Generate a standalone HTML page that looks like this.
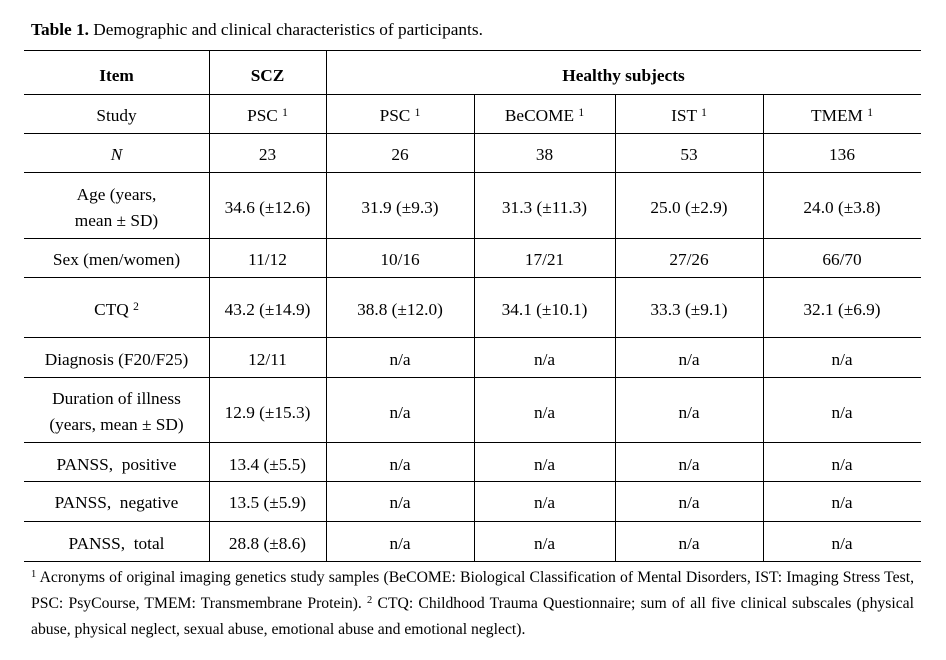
<!DOCTYPE html>
<html><head><meta charset="utf-8">
<style>
html,body{margin:0;padding:0;background:#fff;}
body{width:946px;height:660px;position:relative;overflow:hidden;font-family:"Liberation Serif","Times New Roman",serif;color:#000;font-size:17.3px;}
.h{position:absolute;left:24px;width:897px;height:1px;background:#000;}
.v{position:absolute;width:1px;background:#000;}
.t{position:absolute;text-align:center;line-height:20px;white-space:nowrap;}
.s{font-size:11.5px;position:relative;top:-5px;}
.b{font-weight:bold;}
.fn{position:absolute;left:31px;width:883px;line-height:20px;white-space:nowrap;}
.ft{font-size:15.7px;}
.j{text-align:justify;text-align-last:justify;white-space:normal;height:20px;overflow:visible;}
.fs{font-size:10.5px;position:relative;top:-5px;}
</style></head><body>

<div class="fn" style="top:20px;"><b>Table 1.</b> Demographic and clinical characteristics of participants.</div>

<!-- horizontal lines -->
<div class="h" style="top:50px"></div>
<div class="h" style="top:94px"></div>
<div class="h" style="top:133px"></div>
<div class="h" style="top:172px"></div>
<div class="h" style="top:238px"></div>
<div class="h" style="top:277px"></div>
<div class="h" style="top:337px"></div>
<div class="h" style="top:377px"></div>
<div class="h" style="top:442px"></div>
<div class="h" style="top:481px"></div>
<div class="h" style="top:521px"></div>
<div class="h" style="top:561px"></div>

<!-- vertical lines -->
<div class="v" style="left:209px;top:50px;height:511px"></div>
<div class="v" style="left:326px;top:50px;height:511px"></div>
<div class="v" style="left:474px;top:94px;height:467px"></div>
<div class="v" style="left:615px;top:94px;height:467px"></div>
<div class="v" style="left:763px;top:94px;height:467px"></div>

<!-- header row -->
<div class="t b" style="left:24px;width:185px;top:66px">Item</div>
<div class="t b" style="left:209px;width:117px;top:66px">SCZ</div>
<div class="t b" style="left:326px;width:595px;top:66px">Healthy subjects</div>

<!-- Study row -->
<div class="t" style="left:24px;width:185px;top:106px">Study</div>
<div class="t" style="left:209px;width:117px;top:106px">PSC <span class="s">1</span></div>
<div class="t" style="left:326px;width:148px;top:106px">PSC <span class="s">1</span></div>
<div class="t" style="left:474px;width:141px;top:106px">BeCOME <span class="s">1</span></div>
<div class="t" style="left:615px;width:148px;top:106px">IST <span class="s">1</span></div>
<div class="t" style="left:763px;width:158px;top:106px">TMEM <span class="s">1</span></div>

<!-- N row -->
<div class="t" style="left:24px;width:185px;top:145px"><i>N</i></div>
<div class="t" style="left:209px;width:117px;top:145px">23</div>
<div class="t" style="left:326px;width:148px;top:145px">26</div>
<div class="t" style="left:474px;width:141px;top:145px">38</div>
<div class="t" style="left:615px;width:148px;top:145px">53</div>
<div class="t" style="left:763px;width:158px;top:145px">136</div>

<!-- Age row -->
<div class="t" style="left:24px;width:185px;top:185px">Age (years,</div>
<div class="t" style="left:24px;width:185px;top:211px">mean ± SD)</div>
<div class="t" style="left:209px;width:117px;top:198px">34.6 (±12.6)</div>
<div class="t" style="left:326px;width:148px;top:198px">31.9 (±9.3)</div>
<div class="t" style="left:474px;width:141px;top:198px">31.3 (±11.3)</div>
<div class="t" style="left:615px;width:148px;top:198px">25.0 (±2.9)</div>
<div class="t" style="left:763px;width:158px;top:198px">24.0 (±3.8)</div>

<!-- Sex row -->
<div class="t" style="left:24px;width:185px;top:250px">Sex (men/women)</div>
<div class="t" style="left:209px;width:117px;top:250px">11/12</div>
<div class="t" style="left:326px;width:148px;top:250px">10/16</div>
<div class="t" style="left:474px;width:141px;top:250px">17/21</div>
<div class="t" style="left:615px;width:148px;top:250px">27/26</div>
<div class="t" style="left:763px;width:158px;top:250px">66/70</div>

<!-- CTQ row -->
<div class="t" style="left:24px;width:185px;top:300px">CTQ <span class="s">2</span></div>
<div class="t" style="left:209px;width:117px;top:300px">43.2 (±14.9)</div>
<div class="t" style="left:326px;width:148px;top:300px">38.8 (±12.0)</div>
<div class="t" style="left:474px;width:141px;top:300px">34.1 (±10.1)</div>
<div class="t" style="left:615px;width:148px;top:300px">33.3 (±9.1)</div>
<div class="t" style="left:763px;width:158px;top:300px">32.1 (±6.9)</div>

<!-- Diagnosis row -->
<div class="t" style="left:24px;width:185px;top:350px">Diagnosis (F20/F25)</div>
<div class="t" style="left:209px;width:117px;top:350px">12/11</div>
<div class="t" style="left:326px;width:148px;top:350px">n/a</div>
<div class="t" style="left:474px;width:141px;top:350px">n/a</div>
<div class="t" style="left:615px;width:148px;top:350px">n/a</div>
<div class="t" style="left:763px;width:158px;top:350px">n/a</div>

<!-- Duration row -->
<div class="t" style="left:24px;width:185px;top:389px">Duration of illness</div>
<div class="t" style="left:24px;width:185px;top:415px">(years, mean ± SD)</div>
<div class="t" style="left:209px;width:117px;top:403px">12.9 (±15.3)</div>
<div class="t" style="left:326px;width:148px;top:403px">n/a</div>
<div class="t" style="left:474px;width:141px;top:403px">n/a</div>
<div class="t" style="left:615px;width:148px;top:403px">n/a</div>
<div class="t" style="left:763px;width:158px;top:403px">n/a</div>

<!-- PANSS positive -->
<div class="t" style="left:24px;width:185px;top:455px">PANSS, &nbsp;positive</div>
<div class="t" style="left:209px;width:117px;top:455px">13.4 (±5.5)</div>
<div class="t" style="left:326px;width:148px;top:455px">n/a</div>
<div class="t" style="left:474px;width:141px;top:455px">n/a</div>
<div class="t" style="left:615px;width:148px;top:455px">n/a</div>
<div class="t" style="left:763px;width:158px;top:455px">n/a</div>

<!-- PANSS negative -->
<div class="t" style="left:24px;width:185px;top:493px">PANSS, &nbsp;negative</div>
<div class="t" style="left:209px;width:117px;top:493px">13.5 (±5.9)</div>
<div class="t" style="left:326px;width:148px;top:493px">n/a</div>
<div class="t" style="left:474px;width:141px;top:493px">n/a</div>
<div class="t" style="left:615px;width:148px;top:493px">n/a</div>
<div class="t" style="left:763px;width:158px;top:493px">n/a</div>

<!-- PANSS total -->
<div class="t" style="left:24px;width:185px;top:534px">PANSS, &nbsp;total</div>
<div class="t" style="left:209px;width:117px;top:534px">28.8 (±8.6)</div>
<div class="t" style="left:326px;width:148px;top:534px">n/a</div>
<div class="t" style="left:474px;width:141px;top:534px">n/a</div>
<div class="t" style="left:615px;width:148px;top:534px">n/a</div>
<div class="t" style="left:763px;width:158px;top:534px">n/a</div>

<!-- footnotes -->
<div class="fn ft j" style="top:568px"><span class="fs">1</span> Acronyms of original imaging genetics study samples (BeCOME: Biological Classification of Mental Disorders, IST: Imaging Stress Test,</div>
<div class="fn ft j" style="top:594px">PSC: PsyCourse, TMEM: Transmembrane Protein). <span class="fs">2</span> CTQ: Childhood Trauma Questionnaire; sum of all five clinical subscales (physical</div>
<div class="fn ft" style="top:620px">abuse, physical neglect, sexual abuse, emotional abuse and emotional neglect).</div>

</body></html>
